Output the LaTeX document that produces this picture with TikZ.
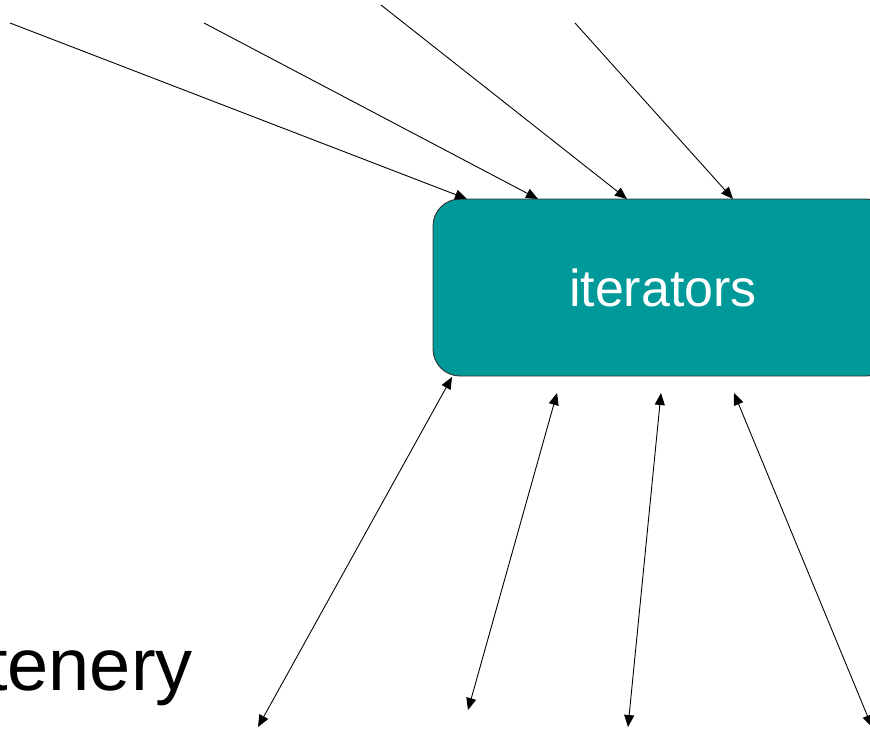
\documentclass[tikz,border=0pt]{standalone}
\usepackage{fontspec}
\setmainfont{Liberation Sans}
\usetikzlibrary{arrows.meta,calc}
\definecolor{teal1}{HTML}{009999}
\tikzset{
  conn/.style={line width=0.9pt,-{Triangle[length=12pt,width=10pt]}},
  dconn/.style={line width=0.9pt,{Triangle[length=12pt,width=10pt]}-{Triangle[length=12pt,width=10pt]}},
  itbox/.style={draw=black!80,line width=0.9pt,fill=teal1,rounded corners=27pt,
    minimum width=460pt,minimum height=177pt,inner sep=0pt,
    text=white,font=\fontsize{52}{60}\selectfont}
}
\begin{document}
\begin{tikzpicture}[x=1pt,y=-1pt]
\useasboundingbox (0,0) rectangle (870,731);
\clip (0,0) rectangle (870,731);
\node[itbox] (box) at (663,287.5) {iterators};
\node[anchor=base east,inner sep=0pt,font=\fontsize{74}{80}\selectfont] (ten) at (193,690) {tenery};
% top sources
\coordinate (s1) at (10,23);
\coordinate (s2) at (204,23);
\coordinate (s3) at (381,5);
\coordinate (s4) at (575,23);
% top targets on box
\coordinate (t1) at (467,199);
\coordinate (t2) at (538,199);
\coordinate (t3) at (627,199);
\coordinate (t4) at (733,199);
\draw[conn] (s1) -- (t1);
\draw[conn] (s2) -- (t2);
\draw[conn] (s3) -- (t3);
\draw[conn] (s4) -- (t4);
% bottom ends
\coordinate (u1) at (452,377);
\coordinate (u2) at (557,393);
\coordinate (u3) at (661,393);
\coordinate (u4) at (734,393);
\coordinate (d1) at (258,727);
\coordinate (d2) at (468,710);
\coordinate (d3) at (628,727);
\coordinate (d4) at (872,727);
\draw[dconn] (d1) -- (u1);
\draw[dconn] (d2) -- (u2);
\draw[dconn] (d3) -- (u3);
\draw[dconn] (d4) -- (u4);
\end{tikzpicture}
\end{document}
